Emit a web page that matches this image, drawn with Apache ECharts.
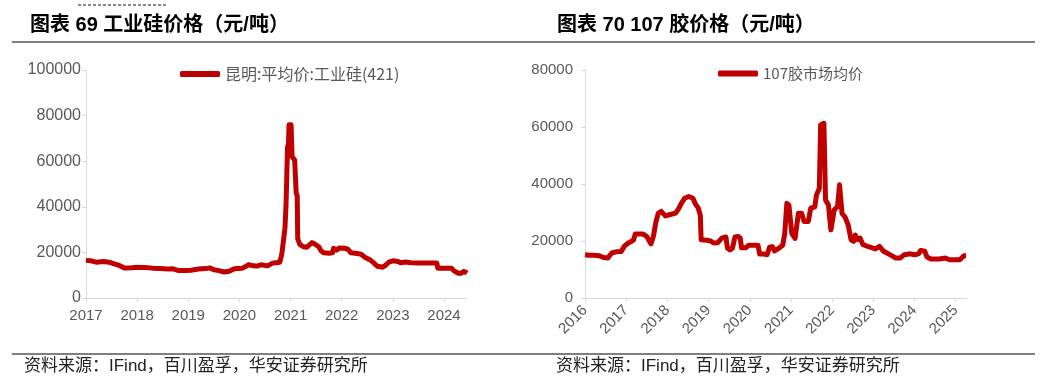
<!DOCTYPE html>
<html>
<head>
<meta charset="utf-8">
<script src="https://cdn.jsdelivr.net/npm/echarts@6/dist/echarts.min.js"></script>
<style>
html,body{margin:0;padding:0;background:#fff;}
#c{width:1041px;height:385px;}
</style>
</head>
<body>
<div id="c"></div>
<script>
// ---- Chart 69: 工业硅价格 (昆明:平均价:工业硅(421)) ----
var siTitle = '图表 69 工业硅价格（元/吨）';
var siName = '昆明:平均价:工业硅(421)';
var siYears = [2017, 2018, 2019, 2020, 2021, 2022, 2023, 2024];
var siX = [2017.00,2017.10,2017.20,2017.35,2017.45,2017.55,2017.65,2017.75,2017.90,2018.00,2018.15,2018.30,2018.45,2018.60,2018.70,2018.80,2018.95,2019.05,2019.20,2019.35,2019.42,2019.50,2019.60,2019.70,2019.80,2019.90,2020.05,2020.12,2020.18,2020.28,2020.35,2020.42,2020.55,2020.65,2020.75,2020.79,2020.83,2020.86,2020.89,2020.91,2020.92,2020.94,2020.96,2020.97,2021.01,2021.03,2021.08,2021.11,2021.13,2021.14,2021.18,2021.25,2021.32,2021.38,2021.42,2021.48,2021.55,2021.60,2021.65,2021.75,2021.82,2021.84,2021.90,2021.95,2022.05,2022.12,2022.18,2022.30,2022.38,2022.45,2022.55,2022.62,2022.70,2022.80,2022.85,2022.92,2023.00,2023.10,2023.15,2023.25,2023.35,2023.50,2023.70,2023.86,2023.88,2024.00,2024.15,2024.20,2024.28,2024.33,2024.38,2024.42,2024.45];
var siY = [16500,16300,15700,16000,15700,15000,14300,13200,13300,13500,13400,13100,12900,12700,12800,12100,12100,12200,12700,12900,13200,12400,12000,11400,11700,12800,13000,13800,14600,14100,14000,14600,14100,15300,15600,15700,19500,25000,30500,40000,48000,66000,68000,76000,76000,62000,60500,46000,45000,26000,23500,22500,22300,23500,24300,23600,22500,20600,19800,19600,19800,21800,21000,21900,21800,21400,19800,19500,19200,17900,16800,15500,13900,13500,14200,15700,16300,16000,15500,15800,15500,15300,15300,15300,13100,13100,13000,11800,10900,10800,11600,11400,10900];

// ---- Chart 70: 107胶价格 (107胶市场均价) ----
var glueTitle = '图表 70 107 胶价格（元/吨）';
var glueName = '107胶市场均价';
var glueYears = [2016, 2017, 2018, 2019, 2020, 2021, 2022, 2023, 2024, 2025];
var glueX = [2016.00,2016.10,2016.20,2016.35,2016.45,2016.55,2016.65,2016.75,2016.88,2016.95,2017.05,2017.12,2017.18,2017.22,2017.40,2017.50,2017.60,2017.66,2017.72,2017.78,2017.85,2017.95,2018.05,2018.20,2018.28,2018.35,2018.42,2018.52,2018.62,2018.68,2018.75,2018.80,2018.82,2018.95,2019.05,2019.12,2019.22,2019.32,2019.42,2019.46,2019.52,2019.58,2019.64,2019.72,2019.77,2019.80,2019.90,2019.97,2020.20,2020.24,2020.35,2020.42,2020.48,2020.55,2020.60,2020.72,2020.80,2020.85,2020.90,2020.95,2021.02,2021.10,2021.18,2021.26,2021.32,2021.42,2021.48,2021.58,2021.62,2021.69,2021.72,2021.80,2021.84,2021.91,2021.97,2022.05,2022.13,2022.18,2022.22,2022.24,2022.31,2022.39,2022.46,2022.52,2022.56,2022.62,2022.68,2022.75,2022.90,2023.05,2023.15,2023.25,2023.40,2023.55,2023.65,2023.75,2023.90,2024.00,2024.10,2024.15,2024.25,2024.30,2024.40,2024.60,2024.75,2024.85,2025.10,2025.20,2025.25];
var glueY = [15200,15000,15000,14800,14200,14000,15800,16200,16300,18100,19300,19800,20400,22500,22500,21600,19000,21600,26500,29800,30400,28800,29200,29800,31500,33500,35000,35600,35000,33000,31500,29000,20400,20300,20000,19300,19400,21000,21400,17500,16900,17500,21400,21600,21000,17600,17600,18500,18500,15400,15400,15200,17800,18000,16500,17600,18500,22700,33200,32600,22700,20900,29700,29700,26800,26800,31500,32000,36100,38500,60700,61300,34400,32600,23900,30900,32000,39700,39000,29700,28500,25600,20400,19900,22100,20500,21000,18700,17900,17200,18100,16400,15200,14000,14000,15200,15500,15200,15500,16700,16400,14400,13700,13700,14000,13400,13400,14800,14800];

var sourceText = '资料来源：IFind，百川盈孚，华安证券研究所';

function pairs(xs, ys){ return xs.map(function(x,i){ return [x, ys[i]]; }); }

var RED = '#C00000';
var GRAY_TXT = '#595959';
var AXIS = '#D9D9D9';
var FONT = '"Liberation Sans", Arial, "Noto Sans CJK SC", sans-serif';

function xAxisCfg(idx, years, min, max, rotate){
  return {
    type: 'value', gridIndex: idx, min: min, max: max, interval: 1,
    axisLine: {show: true, lineStyle: {color: AXIS, width: 1}},
    axisTick: {show: true, customValues: years, length: 4, lineStyle: {color: AXIS}},
    axisLabel: {customValues: years, color: GRAY_TXT, fontSize: 15, fontFamily: FONT,
      rotate: rotate, margin: 10,
      formatter: function(v){ return String(Math.round(v)); }},
    splitLine: {show: false}
  };
}
function yAxisCfg(idx, max, margin, fs){
  return {
    type: 'value', gridIndex: idx, min: 0, max: max, interval: 20000,
    axisLine: {show: true, lineStyle: {color: AXIS, width: 1}},
    axisTick: {show: true, length: 4, lineStyle: {color: AXIS}},
    axisLabel: {color: GRAY_TXT, fontSize: fs, fontFamily: FONT, margin: margin,
      formatter: function(v){ return String(v); }},
    splitLine: {show: false}
  };
}

var option = {
  backgroundColor: '#fff',
  animation: false,
  grid: [
    {left: 86, top: 70, width: 381, bottom: 87},
    {left: 585, top: 70, width: 381, bottom: 87}
  ],
  xAxis: [xAxisCfg(0, siYears, 2017, 2024.45, 0), xAxisCfg(1, glueYears, 2016, 2025.25, 45)],
  yAxis: [yAxisCfg(0, 100000, 5, 16), yAxisCfg(1, 80000, 12, 15)],
  legend: [
    {data: [siName], left: 175, top: 61, itemWidth: 40, itemHeight: 6, icon: 'roundRect',
     textStyle: {color: GRAY_TXT, fontSize: 16, fontFamily: '"Noto Sans CJK SC", sans-serif'}, itemGap: 4},
    {data: [glueName], left: 713, top: 61, itemWidth: 40, itemHeight: 6, icon: 'roundRect',
     textStyle: {color: GRAY_TXT, fontSize: 15, fontFamily: '"Noto Sans CJK SC", sans-serif'}, itemGap: 4}
  ],
  series: [
    {name: siName, type: 'line', xAxisIndex: 0, yAxisIndex: 0, data: pairs(siX, siY),
     showSymbol: false, symbol: 'none', lineStyle: {color: RED, width: 5, join: 'round'}, itemStyle: {color: RED}},
    {name: glueName, type: 'line', xAxisIndex: 1, yAxisIndex: 1, data: pairs(glueX, glueY),
     showSymbol: false, symbol: 'none', lineStyle: {color: RED, width: 5, join: 'round'}, itemStyle: {color: RED}}
  ],
  graphic: [
    {type: 'line', shape: {x1: 78, y1: 5, x2: 168, y2: 5}, style: {stroke: '#8a8a8a', lineWidth: 2, lineDash: [3, 2]}},
    {type: 'text', left: 30, top: 15, style: {text: siTitle, fill: '#000', font: 'bold 20px "Liberation Sans", Arial, "Noto Sans CJK SC", sans-serif'}},
    {type: 'text', left: 557, top: 15, style: {text: glueTitle, fill: '#000', font: 'bold 20px "Liberation Sans", Arial, "Noto Sans CJK SC", sans-serif'}},
    {type: 'line', shape: {x1: 12, y1: 42, x2: 1035, y2: 42}, style: {stroke: '#7f7f7f', lineWidth: 2}},
    {type: 'line', shape: {x1: 12, y1: 354, x2: 1035, y2: 354}, style: {stroke: '#7f7f7f', lineWidth: 2}},
    {type: 'text', left: 24, top: 358, style: {text: sourceText, fill: '#222', font: '17px "Liberation Sans", Arial, "Noto Sans CJK SC", sans-serif'}},
    {type: 'text', left: 556, top: 358, style: {text: sourceText, fill: '#222', font: '17px "Liberation Sans", Arial, "Noto Sans CJK SC", sans-serif'}}
  ]
};
var chart = echarts.init(document.getElementById('c'), null, {renderer: 'canvas'});
chart.setOption(option);
</script>
</body>
</html>
